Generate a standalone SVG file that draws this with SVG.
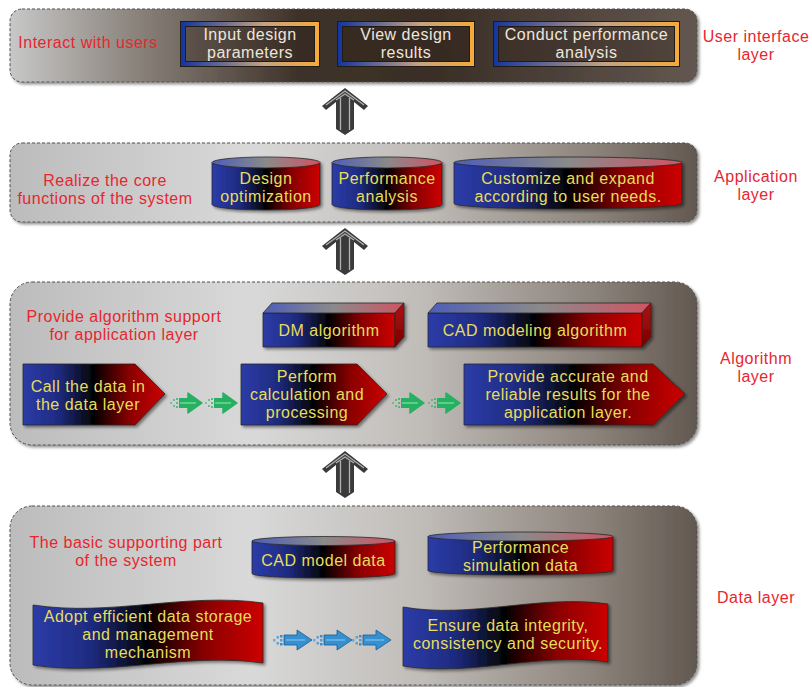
<svg xmlns="http://www.w3.org/2000/svg" width="810" height="687" viewBox="0 0 810 687">
<defs>
<linearGradient id="bgTop" x1="0" x2="1" y1="0" y2="0">
<stop offset="0" stop-color="#c8c8c8"/><stop offset="0.2" stop-color="#857d75"/><stop offset="0.42" stop-color="#3e3229"/><stop offset="0.62" stop-color="#3a2e26"/><stop offset="1" stop-color="#625850"/>
</linearGradient>
<linearGradient id="bgLight" x1="0" x2="1" y1="0" y2="0">
<stop offset="0" stop-color="#bcbcbc"/><stop offset="0.35" stop-color="#d9d9d9"/><stop offset="0.6" stop-color="#c0bcb8"/><stop offset="0.85" stop-color="#8c837b"/><stop offset="1" stop-color="#625850"/>
</linearGradient>
<linearGradient id="bkr" x1="0" x2="1" y1="0" y2="0">
<stop offset="0" stop-color="#2c3ca8"/><stop offset="0.25" stop-color="#1e2b80"/><stop offset="0.5" stop-color="#030303"/><stop offset="0.75" stop-color="#8a0000"/><stop offset="1" stop-color="#cc0000"/>
</linearGradient>
<linearGradient id="bkrTop" x1="0" x2="1" y1="0" y2="0">
<stop offset="0" stop-color="#4e5eb8"/><stop offset="0.5" stop-color="#8a8a8a"/><stop offset="1" stop-color="#d05464"/>
</linearGradient>
<linearGradient id="side" x1="0" x2="0" y1="0" y2="1">
<stop offset="0" stop-color="#b01010"/><stop offset="1" stop-color="#7a0000"/>
</linearGradient>
<linearGradient id="uiStroke" x1="0" x2="1" y1="0" y2="0">
<stop offset="0" stop-color="#16389e"/><stop offset="0.3" stop-color="#6c6c92"/><stop offset="0.6" stop-color="#c4a282"/><stop offset="1" stop-color="#f5aa3a"/>
</linearGradient>
<filter id="sh" x="-10%" y="-10%" width="130%" height="140%">
<feDropShadow dx="2" dy="2" stdDeviation="1.5" flood-color="#000" flood-opacity="0.45"/>
</filter>
<g id="up">
<path d="M0,0 L23,18 L19,22 L9,14 L9,41 L0,47 L-9,41 L-9,14 L-19,22 L-23,18 Z" fill="#3a3a3a"/>
<path d="M-19,17 L0,3 L19,17 M-9,12 L0,6 L9,12 M-4.5,10 L-4.5,42 M4.5,10 L4.5,42" fill="none" stroke="#b0b0b0" stroke-width="1.3"/>
</g>
<g id="ga" fill="#27b062">
<rect x="0" y="-1" width="2" height="2" opacity="0.5"/><rect x="3" y="-4" width="2" height="2" opacity="0.6"/><rect x="3" y="2" width="2" height="2" opacity="0.6"/><rect x="6" y="-1" width="2" height="2" opacity="0.7"/><rect x="6" y="-5" width="2" height="2" opacity="0.7"/><rect x="6" y="3" width="2" height="2" opacity="0.7"/>
<rect x="9" y="-5" width="11" height="10"/>
<path d="M18,-10 L32,0 L18,10 Z" stroke="#27b062" stroke-linejoin="round" stroke-width="1.5"/>
<path d="M10,0 L26,0" stroke="#6ed896" stroke-width="1.5"/>
</g>
<g id="ba" fill="#3590d0" stroke="#1b5a94" stroke-width="0.8">
<rect x="0" y="-1" width="2.5" height="2.5" stroke="none" opacity="0.6"/><rect x="3.5" y="-4" width="2.5" height="2.5" stroke="none" opacity="0.7"/><rect x="3.5" y="2" width="2.5" height="2.5" stroke="none" opacity="0.7"/><rect x="7" y="-1" width="2.5" height="2.5" stroke="none" opacity="0.8"/><rect x="7" y="-5" width="2.5" height="2.5" stroke="none"/><rect x="7" y="3" width="2.5" height="2.5" stroke="none"/>
<path d="M11,-5 L24,-5 L24,-10 L39,0 L24,10 L24,5 L11,5 Z" stroke-linejoin="round"/>
<path d="M13,0 L32,0" stroke="#7cc0ee" stroke-width="1.2"/>
</g>
</defs>
<style>
.layer{stroke:#505050;stroke-width:1;stroke-dasharray:3 2;filter:url(#sh)}
text{font-family:"Liberation Sans",Arial,sans-serif;font-size:16px;letter-spacing:0.5px;text-anchor:middle}
.red{fill:#e8262f}
.yl{fill:#e6de5c}
.wt{fill:#eee6dc}
.shape{fill:url(#bkr);stroke:#2a2a2a;stroke-width:0.8}
.ctop{fill:url(#bkrTop);stroke:#2a2a2a;stroke-width:0.8}
.sd{filter:url(#sh)}
.uibg{fill:#2a1e16;fill-opacity:0.3;stroke:url(#uiStroke);stroke-width:4}
.uiline{fill:none;stroke:#221a15;stroke-width:1}
</style>

<g id="layers">
<rect id="layer-ui" class="layer" x="10" y="9" width="687" height="73" rx="12" fill="url(#bgTop)"/>
<rect id="layer-app" class="layer" x="10" y="143" width="687" height="79" rx="12" fill="url(#bgLight)"/>
<rect id="layer-alg" class="layer" x="10" y="282" width="687" height="163" rx="22" fill="url(#bgLight)"/>
<rect id="layer-data" class="layer" x="10" y="506" width="687" height="179" rx="22" fill="url(#bgLight)"/>
</g>

<g id="connectors">
<use href="#up" x="345" y="88"/>
<use href="#up" x="345" y="228"/>
<use href="#up" x="345" y="451"/>
<use href="#ga" x="170" y="403"/>
<use href="#ga" x="205" y="403"/>
<use href="#ga" x="392" y="403"/>
<use href="#ga" x="428" y="403"/>
<use href="#ba" x="273" y="640"/>
<use href="#ba" x="313" y="640"/>
<use href="#ba" x="352" y="640"/>
</g>

<g id="labels">
<text class="red" x="88" y="48">Interact with users</text>
<text class="red" x="756" y="42">User interface</text>
<text class="red" x="756" y="60">layer</text>
<text class="red" x="105" y="186">Realize the core</text>
<text class="red" x="105" y="204">functions of the system</text>
<text class="red" x="756" y="182">Application</text>
<text class="red" x="756" y="200">layer</text>
<text class="red" x="124" y="322">Provide algorithm support</text>
<text class="red" x="124" y="340">for application layer</text>
<text class="red" x="756" y="364">Algorithm</text>
<text class="red" x="756" y="382">layer</text>
<text class="red" x="126" y="548">The basic supporting part</text>
<text class="red" x="126" y="566">of the system</text>
<text class="red" x="756" y="603">Data layer</text>
</g>

<g id="ui-input">
<rect class="uiline" x="180.5" y="21.5" width="139" height="45"/>
<rect class="uibg" x="183" y="24" width="134" height="40"/>
<rect class="uiline" x="185.5" y="26.5" width="129" height="35"/>
<text class="wt" x="250" y="40">Input design</text>
<text class="wt" x="250" y="58">parameters</text>
</g>
<g id="ui-view">
<rect class="uiline" x="337.5" y="21.5" width="137" height="45"/>
<rect class="uibg" x="340" y="24" width="132" height="40"/>
<rect class="uiline" x="342.5" y="26.5" width="127" height="35"/>
<text class="wt" x="406" y="40">View design</text>
<text class="wt" x="406" y="58">results</text>
</g>
<g id="ui-conduct">
<rect class="uiline" x="493.5" y="21.5" width="186" height="45"/>
<rect class="uibg" x="496" y="24" width="181" height="40"/>
<rect class="uiline" x="498.5" y="26.5" width="176" height="35"/>
<text class="wt" x="586.5" y="40">Conduct performance</text>
<text class="wt" x="586.5" y="58">analysis</text>
</g>

<g id="app-design">
<g class="sd">
<path class="shape" d="M212,162.5 L212,204.5 A54,5.5 0 0 0 320,204.5 L320,162.5 Z"/>
<ellipse class="ctop" cx="266" cy="162.5" rx="54" ry="5.5"/>
</g>
<text class="yl" x="266" y="184">Design</text>
<text class="yl" x="266" y="202">optimization</text>
</g>
<g id="app-performance">
<g class="sd">
<path class="shape" d="M332,162.5 L332,204.5 A55,5.5 0 0 0 442,204.5 L442,162.5 Z"/>
<ellipse class="ctop" cx="387" cy="162.5" rx="55" ry="5.5"/>
</g>
<text class="yl" x="387" y="184">Performance</text>
<text class="yl" x="387" y="202">analysis</text>
</g>
<g id="app-customize">
<g class="sd">
<path class="shape" d="M454,162.5 L454,203.5 A114,5.5 0 0 0 682,203.5 L682,162.5 Z"/>
<ellipse class="ctop" cx="568" cy="162.5" rx="114" ry="5.5"/>
</g>
<text class="yl" x="568" y="184">Customize and expand</text>
<text class="yl" x="568" y="202">according to user needs.</text>
</g>

<g id="alg-dm">
<g class="sd">
<path class="shape" d="M263,313 L395,313 L395,347 L263,347 Z"/>
<path class="ctop" d="M263,313 L272,303 L404,303 L395,313 Z"/>
<path d="M395,313 L404,303 L404,337 L395,347 Z" fill="url(#side)" stroke="#2a2a2a" stroke-width="0.8"/>
</g>
<text class="yl" x="329" y="336">DM algorithm</text>
</g>
<g id="alg-cad">
<g class="sd">
<path class="shape" d="M428,313 L642,313 L642,347 L428,347 Z"/>
<path class="ctop" d="M428,313 L437,303 L651,303 L642,313 Z"/>
<path d="M642,313 L651,303 L651,337 L642,347 Z" fill="url(#side)" stroke="#2a2a2a" stroke-width="0.8"/>
</g>
<text class="yl" x="535" y="336">CAD modeling algorithm</text>
</g>
<g id="alg-call">
<path class="shape sd" d="M23,364 L135,364 L165,394 L135,425 L23,425 Z"/>
<text class="yl" x="88" y="392">Call the data in</text>
<text class="yl" x="88" y="410">the data layer</text>
</g>
<g id="alg-perform">
<path class="shape sd" d="M241,364 L357,364 L387,394 L357,425 L241,425 Z"/>
<text class="yl" x="307" y="382">Perform</text>
<text class="yl" x="307" y="400">calculation and</text>
<text class="yl" x="307" y="418">processing</text>
</g>
<g id="alg-provide">
<path class="shape sd" d="M464,364 L653,364 L685,394 L653,425 L464,425 Z"/>
<text class="yl" x="568" y="382">Provide accurate and</text>
<text class="yl" x="568" y="400">reliable results for the</text>
<text class="yl" x="568" y="418">application layer.</text>
</g>

<g id="data-cad">
<g class="sd">
<path class="shape" d="M252,541 L252,573.5 A71.5,4.5 0 0 0 395,573.5 L395,541 Z"/>
<ellipse class="ctop" cx="323.5" cy="541" rx="71.5" ry="4.5"/>
</g>
<text class="yl" x="323.5" y="566">CAD model data</text>
</g>
<g id="data-sim">
<g class="sd">
<path class="shape" d="M428,536.5 L428,570.5 A92.5,4.5 0 0 0 613,570.5 L613,536.5 Z"/>
<ellipse class="ctop" cx="520.5" cy="536.5" rx="92.5" ry="4.5"/>
</g>
<text class="yl" x="520.5" y="553">Performance</text>
<text class="yl" x="520.5" y="571">simulation data</text>
</g>
<g id="data-storage">
<path class="shape sd" d="M33,605 C110,617 186,592 263,603 L263,663 C186,652 110,677 33,665 Z"/>
<text class="yl" x="148" y="622">Adopt efficient data storage</text>
<text class="yl" x="148" y="640">and management</text>
<text class="yl" x="148" y="658">mechanism</text>
</g>
<g id="data-integrity">
<path class="shape sd" d="M403,607 C471,619 540,594 608,604 L608,662 C540,652 471,677 403,666 Z"/>
<text class="yl" x="508" y="631">Ensure data integrity,</text>
<text class="yl" x="508" y="649">consistency and security.</text>
</g>
</svg>
